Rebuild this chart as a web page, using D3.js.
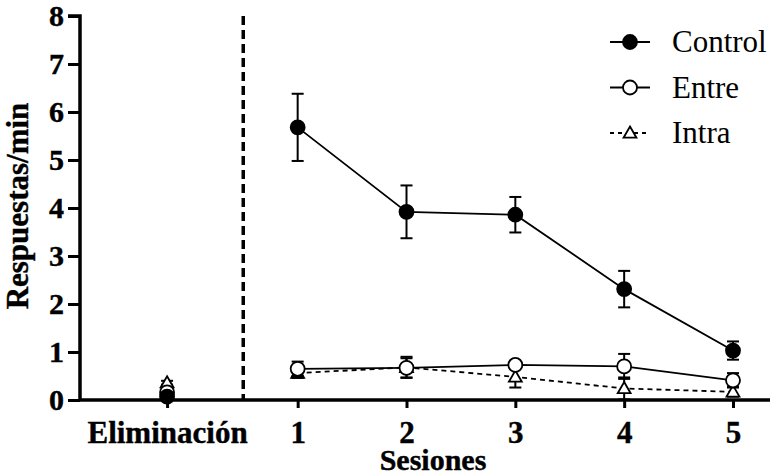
<!DOCTYPE html>
<meta charset="utf-8" />
<style>
  body {
    margin: 0px;
    padding: 0px;
    background: #fff;
  }
  svg {
    display: block;
  }
  .bold {
    font-family: "Liberation Serif", "Times New Roman", serif;
    font-weight: bold;
    stroke: #000;
    stroke-width: 0.4px;
  }
  .legend text {
    font-family: "Liberation Serif", "Times New Roman", serif;
    font-size: 31px;
  }
</style>

<svg width="770" height="476"></svg>

<script src="https://d3js.org/d3.v7.min.js"></script>
<script>
  // x positions: Eliminación sits before the dashed divider, sessions 1..5 after it
  const categories = ["Eliminación", "1", "2", "3", "4", "5"];
  const catPos = [-0.2, 1, 2, 3, 4, 5];
  const yTicks = [0, 1, 2, 3, 4, 5, 6, 7, 8];

  const controlMean = [0.07, 5.68, 3.92, 3.86, 2.31, 1.03];
  const controlErr = [0.03, 0.7, 0.55, 0.37, 0.38, 0.19];
  const entreMean = [0.16, 0.65, 0.67, 0.73, 0.7, 0.41];
  const entreErr = [0.04, 0.15, 0.2, 0.05, 0.26, 0.15];
  const intraMean = [0.36, 0.56, 0.68, 0.48, 0.24, 0.17];
  const intraErr = [0.04, 0.1, 0.22, 0.22, 0.23, 0.1];

  const series = [
    { name: "Intra", mean: intraMean, err: intraErr, marker: "triangle", dash: "5,4" },
    { name: "Entre", mean: entreMean, err: entreErr, marker: "open", dash: null },
    { name: "Control", mean: controlMean, err: controlErr, marker: "filled", dash: null },
  ];

  const svg = d3.select("svg");

  const x = d3.scaleLinear().domain([-1, 5.34]).range([80, 770]);
  const y = d3.scaleLinear().domain([0, 8]).range([400, 16]);

  // dashed divider between baseline and sessions
  svg
    .append("line")
    .attr("x1", x(0.5))
    .attr("x2", x(0.5))
    .attr("y1", y(8))
    .attr("y2", y(0))
    .attr("stroke", "#000")
    .attr("stroke-width", 3.5)
    .attr("stroke-dasharray", "9,5");

  // y axis
  const yAxis = svg
    .append("g")
    .attr("transform", "translate(" + x(-1) + ",0)")
    .call(d3.axisLeft(y).tickValues(yTicks).tickSize(12).tickPadding(4).tickFormat(d3.format("d")));
  yAxis.select(".domain").attr("stroke-width", 3.5).attr("d", "M-12," + y(8) + "H0V" + y(0));
  yAxis.selectAll(".tick line").attr("stroke-width", 3);
  yAxis.selectAll("text").attr("class", "bold").attr("font-size", 30).attr("dy", "0.33em");

  // x axis
  const xAxis = svg
    .append("g")
    .attr("transform", "translate(0," + y(0) + ")")
    .call(
      d3
        .axisBottom(x)
        .tickValues(catPos)
        .tickSize(8)
        .tickPadding(13)
        .tickFormat((d, i) => categories[i])
    );
  xAxis.select(".domain").attr("stroke-width", 3.5).attr("d", "M" + x(-1) + ",0H770");
  xAxis.selectAll(".tick line").attr("stroke-width", 3);
  xAxis.selectAll("text").attr("class", "bold").attr("font-size", 31);

  // axis titles
  svg
    .append("text")
    .attr("class", "bold")
    .attr("font-size", 30)
    .attr("text-anchor", "middle")
    .attr("x", 433)
    .attr("y", 470)
    .text("Sesiones");

  svg
    .append("text")
    .attr("class", "bold")
    .attr("font-size", 31)
    .attr("text-anchor", "middle")
    .attr("transform", "translate(28,206) rotate(-90)")
    .text("Respuestas/min");

  const tri = d3.symbol().type(d3.symbolTriangle).size(72);

  function drawMarker(g, kind, cx, cy) {
    if (kind === "triangle") {
      g.append("path")
        .attr("d", tri())
        .attr("transform", "translate(" + cx + "," + (cy + 1) + ")")
        .attr("fill", "#fff")
        .attr("stroke", "#000")
        .attr("stroke-width", 1.8);
    } else {
      g.append("circle")
        .attr("cx", cx)
        .attr("cy", cy)
        .attr("r", 7)
        .attr("fill", kind === "filled" ? "#000" : "#fff")
        .attr("stroke", "#000")
        .attr("stroke-width", 1.8);
    }
  }

  const sessionIdx = [1, 2, 3, 4, 5];

  series.forEach((s) => {
    const g = svg.append("g");

    // error bars
    catPos.forEach((p, i) => {
      const cx = x(p);
      const top = y(s.mean[i] + s.err[i]);
      const bot = y(Math.max(0, s.mean[i] - s.err[i]));
      g.append("line").attr("x1", cx).attr("x2", cx).attr("y1", top).attr("y2", bot).attr("stroke", "#000").attr("stroke-width", 2);
      g.append("line").attr("x1", cx - 6).attr("x2", cx + 6).attr("y1", top).attr("y2", top).attr("stroke", "#000").attr("stroke-width", 2);
      g.append("line").attr("x1", cx - 6).attr("x2", cx + 6).attr("y1", bot).attr("y2", bot).attr("stroke", "#000").attr("stroke-width", 2);
    });

    // line through sessions only
    const line = d3
      .line()
      .x((i) => x(catPos[i]))
      .y((i) => y(s.mean[i]));
    g.append("path")
      .attr("d", line(sessionIdx))
      .attr("fill", "none")
      .attr("stroke", "#000")
      .attr("stroke-width", 1.8)
      .attr("stroke-dasharray", s.dash);

    catPos.forEach((p, i) => drawMarker(g, s.marker, x(p), y(s.mean[i])));
  });

  // legend
  const legendItems = [series[2], series[1], series[0]];
  const legend = svg.append("g").attr("class", "legend");
  legendItems.forEach((s, i) => {
    const ly = 42 + i * 45.5;
    legend
      .append("line")
      .attr("x1", 610)
      .attr("x2", 650)
      .attr("y1", ly)
      .attr("y2", ly)
      .attr("stroke", "#000")
      .attr("stroke-width", 1.8)
      .attr("stroke-dasharray", s.dash ? "4,4" : null);
    drawMarker(legend, s.marker, 630, ly);
    legend.append("text").attr("x", 672).attr("y", ly + 10).text(s.name);
  });
</script>
